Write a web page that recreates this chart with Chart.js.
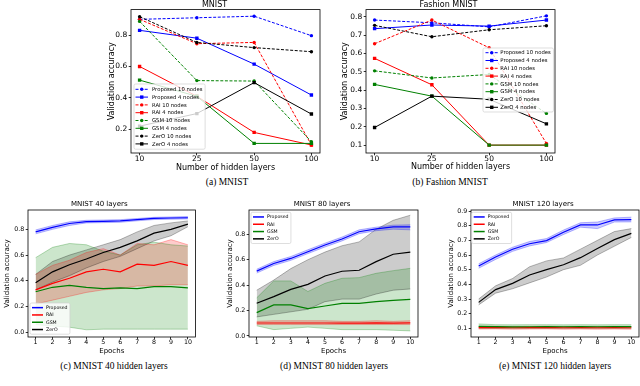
<!DOCTYPE html>
<html>
<head>
<meta charset="utf-8">
<script src="https://cdn.jsdelivr.net/npm/chart.js@4.4.0/dist/chart.umd.min.js"></script>
<style>
  body { margin: 0; background: #fff; width: 640px; height: 386px; position: relative; overflow: hidden; }
  canvas { position: absolute; }
  .cap { position: absolute; font-family: "Liberation Serif", serif; font-size: 9.5px; color: #000; white-space: nowrap; transform: translateX(-50%); line-height: 11px; }
</style>
</head>
<body>
<canvas id="chartA"></canvas>
<canvas id="chartB"></canvas>
<canvas id="chartC"></canvas>
<canvas id="chartD"></canvas>
<canvas id="chartE"></canvas>
<div class="cap" style="left:227px;top:177px">(a) MNIST</div>
<div class="cap" style="left:450px;top:177px">(b) Fashion MNIST</div>
<div class="cap" style="left:114px;top:361px">(c) MNIST 40 hidden layers</div>
<div class="cap" style="left:334px;top:361px">(d) MNIST 80 hidden layers</div>
<div class="cap" style="left:555px;top:361px">(e) MNIST 120 hidden layers</div>
<script>
// x categories
const layerLabels = ['10', '25', '50', '100'];
const epochs = [1, 2, 3, 4, 5, 6, 7, 8, 9, 10];

// y tick labels
const yTicksA = [0.2, 0.4, 0.6, 0.8];
const yTicksB = [0.1, 0.2, 0.3, 0.4, 0.5, 0.6, 0.7, 0.8];
const yTicksC = [0.0, 0.2, 0.4, 0.6, 0.8];
const yTicksD = [0.0, 0.2, 0.4, 0.6, 0.8];
const yTicksE = [0.1, 0.2, 0.3, 0.4, 0.5, 0.6, 0.7, 0.8, 0.9];

// (a) MNIST
const mnistProp10 = [0.90, 0.91, 0.92, 0.796];
const mnistProp4 = [0.83, 0.78, 0.615, 0.418];
const mnistRai10 = [0.90, 0.745, 0.753, 0.10];
const mnistRai4 = [0.60, 0.41, 0.18, 0.10];
const mnistGsm10 = [0.887, 0.51, 0.507, 0.121];
const mnistGsm4 = [0.513, 0.41, 0.11, 0.11];
const mnistZero10 = [0.917, 0.753, 0.72, 0.694];
const mnistZero4 = [0.22, 0.30, 0.497, 0.297];

// (b) Fashion MNIST
const fashProp10 = [0.782, 0.767, 0.745, 0.805];
const fashProp4 = [0.735, 0.755, 0.749, 0.782];
const fashRai10 = [0.653, 0.782, 0.631, 0.109];
const fashRai4 = [0.573, 0.429, 0.10, 0.10];
const fashGsm10 = [0.505, 0.466, 0.485, 0.273];
const fashGsm4 = [0.431, 0.367, 0.10, 0.10];
const fashZero10 = [0.753, 0.691, 0.729, 0.751];
const fashZero4 = [0.196, 0.367, 0.35, 0.216];

// (c) MNIST 40 layers
const prop40 = [0.78, 0.815, 0.845, 0.86, 0.862, 0.865, 0.875, 0.885, 0.888, 0.89];
const prop40Lo = [0.765, 0.80, 0.83, 0.85, 0.852, 0.855, 0.866, 0.876, 0.879, 0.881];
const prop40Hi = [0.795, 0.83, 0.858, 0.87, 0.872, 0.875, 0.884, 0.893, 0.896, 0.899];
const rai40 = [0.33, 0.38, 0.42, 0.47, 0.49, 0.47, 0.53, 0.52, 0.55, 0.52];
const rai40Lo = [0.22, 0.25, 0.28, 0.31, 0.33, 0.34, 0.36, 0.36, 0.37, 0.37];
const rai40Hi = [0.45, 0.52, 0.56, 0.62, 0.65, 0.60, 0.69, 0.68, 0.72, 0.68];
const gsm40 = [0.315, 0.35, 0.365, 0.35, 0.34, 0.345, 0.34, 0.355, 0.355, 0.345];
const gsm40Lo = [0.06, 0.05, 0.04, 0.02, 0.025, 0.025, 0.025, 0.025, 0.025, 0.025];
const gsm40Hi = [0.58, 0.66, 0.69, 0.68, 0.63, 0.60, 0.68, 0.70, 0.68, 0.67];
const zero40 = [0.385, 0.47, 0.525, 0.57, 0.62, 0.66, 0.71, 0.77, 0.80, 0.84];
const zero40Lo = [0.33, 0.39, 0.44, 0.50, 0.55, 0.59, 0.65, 0.71, 0.75, 0.82];
const zero40Hi = [0.45, 0.55, 0.60, 0.64, 0.68, 0.72, 0.78, 0.83, 0.85, 0.865];

// (d) MNIST 80 layers
const prop80 = [0.51, 0.57, 0.61, 0.663, 0.716, 0.763, 0.82, 0.842, 0.858, 0.858];
const prop80Lo = [0.495, 0.555, 0.595, 0.648, 0.70, 0.748, 0.805, 0.828, 0.84, 0.835];
const prop80Hi = [0.525, 0.585, 0.625, 0.678, 0.73, 0.778, 0.835, 0.856, 0.872, 0.875];
const rai80 = [0.102, 0.102, 0.102, 0.102, 0.102, 0.101, 0.101, 0.103, 0.101, 0.103];
const rai80Lo = [0.09, 0.09, 0.09, 0.09, 0.09, 0.09, 0.09, 0.09, 0.09, 0.09];
const rai80Hi = [0.115, 0.12, 0.12, 0.12, 0.12, 0.115, 0.115, 0.12, 0.115, 0.12];
const gsm80 = [0.184, 0.244, 0.244, 0.215, 0.236, 0.257, 0.257, 0.27, 0.28, 0.288];
const gsm80Lo = [0.08, 0.05, 0.06, 0.07, 0.06, 0.05, 0.05, 0.05, 0.045, 0.04];
const gsm80Hi = [0.30, 0.433, 0.433, 0.35, 0.414, 0.454, 0.459, 0.493, 0.514, 0.532];
const zero80 = [0.257, 0.31, 0.367, 0.406, 0.472, 0.509, 0.517, 0.585, 0.643, 0.66];
const zero80Lo = [0.15, 0.17, 0.19, 0.21, 0.27, 0.29, 0.29, 0.33, 0.36, 0.37];
const zero80Hi = [0.36, 0.44, 0.53, 0.60, 0.66, 0.71, 0.74, 0.84, 0.91, 0.95];

// (e) MNIST 120 layers
const prop120 = [0.525, 0.586, 0.639, 0.677, 0.698, 0.755, 0.805, 0.805, 0.839, 0.841];
const prop120Lo = [0.51, 0.57, 0.625, 0.662, 0.685, 0.74, 0.79, 0.78, 0.825, 0.826];
const prop120Hi = [0.54, 0.60, 0.653, 0.692, 0.712, 0.77, 0.82, 0.825, 0.853, 0.858];
const rai120 = [0.105, 0.106, 0.104, 0.105, 0.106, 0.104, 0.105, 0.104, 0.105, 0.104];
const rai120Lo = [0.095, 0.096, 0.094, 0.095, 0.096, 0.094, 0.095, 0.094, 0.095, 0.094];
const rai120Hi = [0.113, 0.114, 0.112, 0.113, 0.114, 0.112, 0.113, 0.112, 0.113, 0.112];
const gsm120 = [0.113, 0.112, 0.11, 0.111, 0.112, 0.111, 0.112, 0.111, 0.112, 0.112];
const gsm120Lo = [0.10, 0.10, 0.10, 0.10, 0.10, 0.10, 0.10, 0.10, 0.10, 0.10];
const gsm120Hi = [0.13, 0.125, 0.124, 0.125, 0.125, 0.124, 0.125, 0.124, 0.125, 0.125];
const zero120 = [0.277, 0.364, 0.407, 0.464, 0.50, 0.534, 0.582, 0.645, 0.705, 0.748];
const zero120Lo = [0.26, 0.34, 0.37, 0.41, 0.45, 0.50, 0.53, 0.60, 0.66, 0.72];
const zero120Hi = [0.30, 0.39, 0.44, 0.52, 0.56, 0.58, 0.64, 0.70, 0.76, 0.78];

const F = '"DejaVu Sans", sans-serif';
Chart.defaults.font.family = F;
Chart.defaults.color = '#000';

const BLUE = '#0000ff', RED = '#ff0000', GREEN = '#008000', BLACK = '#000000';
const fade = { [BLUE]: '0,0,255', [RED]: '255,0,0', [GREEN]: '0,128,0', [BLACK]: '0,0,0' };

// box around the plot area, like matplotlib spines
const frame = {
  id: 'frame',
  afterDraw(chart) {
    const a = chart.chartArea, ctx = chart.ctx;
    ctx.save();
    ctx.strokeStyle = '#000';
    ctx.lineWidth = 0.8;
    ctx.strokeRect(a.left, a.top, a.right - a.left, a.bottom - a.top);
    ctx.restore();
  }
};

// legend drawn inside the axes
const boxLegend = {
  id: 'boxLegend',
  afterDraw(chart, args, o) {
    if (!o || o.x === undefined) return;
    const sets = chart.data.datasets.filter(d => d.label);
    const ctx = chart.ctx;
    ctx.save();
    ctx.font = o.fs + 'px ' + F;
    const tw = Math.max(...sets.map(d => ctx.measureText(d.label).width));
    const w = o.tx + tw + o.fs * 0.5;
    const h = sets.length * o.row + o.pad * 2;
    ctx.beginPath();
    ctx.roundRect(o.x, o.y, w, h, 1.5);
    ctx.fillStyle = 'rgba(255,255,255,0.8)';
    ctx.fill();
    ctx.strokeStyle = '#d0d0d0';
    ctx.lineWidth = 0.7;
    ctx.stroke();
    sets.forEach((d, i) => {
      const y = o.y + o.pad + o.row * (i + 0.5);
      ctx.beginPath();
      ctx.setLineDash(d.borderDash || []);
      ctx.strokeStyle = d.borderColor;
      ctx.lineWidth = o.lw || d.borderWidth;
      ctx.moveTo(o.x + o.hx, y);
      ctx.lineTo(o.x + o.hx + o.hl, y);
      ctx.stroke();
      ctx.setLineDash([]);
      const mx = o.x + o.hx + o.hl / 2;
      ctx.fillStyle = d.borderColor;
      if (d.pointStyle === 'circle' && d.pointRadius) {
        ctx.beginPath();
        ctx.arc(mx, y, d.pointRadius, 0, Math.PI * 2);
        ctx.fill();
      } else if (d.pointStyle === 'rect' && d.pointRadius) {
        const s = d.pointRadius * Math.SQRT1_2;
        ctx.fillRect(mx - s, y - s, 2 * s, 2 * s);
      }
      ctx.fillStyle = '#000';
      ctx.textBaseline = 'middle';
      ctx.textAlign = 'left';
      ctx.fillText(d.label, o.x + o.tx, y + 0.3);
    });
    ctx.restore();
  }
};

function seriesSet(label, values, color, dashed, marker, order) {
  return {
    label: label,
    data: values.map((v, i) => ({ x: i, y: v })),
    borderColor: color,
    backgroundColor: color,
    borderWidth: 1,
    borderDash: dashed ? [3, 1.6] : [],
    pointStyle: marker,
    pointRadius: marker === 'rect' ? 2.4 : 1.7,
    pointBorderWidth: 0,
    fill: false,
    order: order
  };
}

function meanSet(label, values, color, order) {
  return {
    label: label,
    data: values.map((v, i) => ({ x: epochs[i], y: v })),
    borderColor: color,
    borderWidth: 1.2,
    pointRadius: 0,
    fill: false,
    order: order
  };
}

function bandSets(hi, lo, color) {
  const edge = 'rgba(' + fade[color] + ',0.35)';
  return [
    { data: hi.map((v, i) => ({ x: epochs[i], y: v })), borderColor: edge, borderWidth: 0.8,
      backgroundColor: 'rgba(' + fade[color] + ',0.2)', pointRadius: 0, fill: '+1', order: 100 },
    { data: lo.map((v, i) => ({ x: epochs[i], y: v })), borderColor: edge, borderWidth: 0.8,
      pointRadius: 0, fill: false, order: 100 }
  ];
}

function makeChart(id, g, cfg) {
  const el = document.getElementById(id);
  el.width = g.w;
  el.height = g.h;
  el.style.left = g.left + 'px';
  el.style.top = g.top + 'px';
  const tickGrid = { drawOnChartArea: false, drawTicks: true, tickLength: 2.3, color: '#000', lineWidth: 0.8 };
  return new Chart(el, {
    type: 'line',
    data: { datasets: cfg.datasets },
    options: {
      responsive: false,
      animation: false,
      devicePixelRatio: 1,
      layout: { padding: { left: 0, right: g.padR, top: 0, bottom: 0 } },
      plugins: {
        legend: { display: false },
        tooltip: { enabled: false },
        filler: { drawTime: 'beforeDatasetsDraw' },
        title: {
          display: true, text: cfg.title, color: '#000',
          font: { family: F, size: g.titleSize, weight: 'normal' },
          padding: { top: 0, bottom: g.titlePad }
        },
        boxLegend: cfg.legend
      },
      scales: {
        x: {
          type: 'linear', min: cfg.xMin, max: cfg.xMax,
          afterBuildTicks: s => { s.ticks = cfg.xTicks.map(v => ({ value: v })); },
          afterFit: s => { s.height = g.xh; },
          ticks: { callback: cfg.xLabel, font: { size: g.tickSize, lineHeight: 1 }, color: '#000', padding: 0, maxRotation: 0, autoSkip: false },
          grid: tickGrid,
          border: { display: false },
          title: { display: true, text: cfg.xTitle, color: '#000', font: { size: g.labSize }, padding: 0 }
        },
        y: {
          min: cfg.yMin, max: cfg.yMax,
          afterBuildTicks: s => { s.ticks = cfg.yTicks.map(v => ({ value: v })); },
          afterFit: s => { s.width = g.yw; },
          ticks: { callback: v => v.toFixed(1), font: { size: g.tickSize, lineHeight: 1 }, color: '#000', padding: 1.5 },
          grid: tickGrid,
          border: { display: false },
          title: { display: true, text: 'Validation accuracy', color: '#000', font: { size: g.labSize }, padding: 0 }
        }
      }
    },
    plugins: [frame, boxLegend]
  });
}

// top row
const topGeom = { titleSize: 8, titlePad: 0, tickSize: 7.5, labSize: 8, padR: 2 };
const layerX = { xMin: -0.15, xMax: 3.15, xTicks: [0, 1, 2, 3], xLabel: v => layerLabels[v], xTitle: 'Number of hidden layers' };

makeChart('chartA', Object.assign({ left: 107, top: 0, w: 217, h: 173, yw: 24, xh: 20 }, topGeom), Object.assign({
  title: 'MNIST', yMin: 0.049, yMax: 0.962, yTicks: yTicksA,
  datasets: [
    seriesSet('Proposed 10 nodes', mnistProp10, BLUE, true, 'circle', 8),
    seriesSet('Proposed 4 nodes', mnistProp4, BLUE, false, 'rect', 7),
    seriesSet('RAI 10 nodes', mnistRai10, RED, true, 'circle', 6),
    seriesSet('RAI 4 nodes', mnistRai4, RED, false, 'rect', 5),
    seriesSet('GSM 10 nodes', mnistGsm10, GREEN, true, 'circle', 4),
    seriesSet('GSM 4 nodes', mnistGsm4, GREEN, false, 'rect', 3),
    seriesSet('ZerO 10 nodes', mnistZero10, BLACK, true, 'circle', 2),
    seriesSet('ZerO 4 nodes', mnistZero4, BLACK, false, 'rect', 1)
  ],
  legend: { x: 27, y: 84, fs: 5.3, row: 7.8, pad: 1.4, hx: 1.5, hl: 12.5, tx: 18 }
}, layerX));

makeChart('chartB', Object.assign({ left: 340, top: 0, w: 219, h: 172, yw: 26, xh: 19 }, topGeom), Object.assign({
  title: 'Fashion MNIST', yMin: 0.057, yMax: 0.839, yTicks: yTicksB,
  datasets: [
    seriesSet('Proposed 10 nodes', fashProp10, BLUE, true, 'circle', 8),
    seriesSet('Proposed 4 nodes', fashProp4, BLUE, false, 'rect', 7),
    seriesSet('RAI 10 nodes', fashRai10, RED, true, 'circle', 6),
    seriesSet('RAI 4 nodes', fashRai4, RED, false, 'rect', 5),
    seriesSet('GSM 10 nodes', fashGsm10, GREEN, true, 'circle', 4),
    seriesSet('GSM 4 nodes', fashGsm4, GREEN, false, 'rect', 3),
    seriesSet('ZerO 10 nodes', fashZero10, BLACK, true, 'circle', 2),
    seriesSet('ZerO 4 nodes', fashZero4, BLACK, false, 'rect', 1)
  ],
  legend: { x: 143, y: 48, fs: 5.3, row: 7.8, pad: 0.8, hx: 2.5, hl: 12.5, tx: 17.3 }
}, layerX));

// bottom row
const botGeom = { top: 200, h: 155, xh: 18, titleSize: 7, titlePad: 1.6, tickSize: 6.3, labSize: 7 };
const epochX = { xMin: 0.55, xMax: 10.45, xTicks: epochs, xLabel: v => String(v), xTitle: 'Epochs' };
const botLegend = { fs: 4.7, row: 7.3, pad: 1, hx: 2, hl: 11, tx: 16, lw: 1.5 };

function epochSets(p, pl, ph, r, rl, rh, g, gl, gh, z, zl, zh) {
  return [
    meanSet('Proposed', p, BLUE, 4),
    meanSet('RAI', r, RED, 3),
    meanSet('GSM', g, GREEN, 2),
    meanSet('ZerO', z, BLACK, 1)
  ].concat(bandSets(ph, pl, BLUE), bandSets(rh, rl, RED), bandSets(gh, gl, GREEN), bandSets(zh, zl, BLACK));
}

makeChart('chartC', Object.assign({ left: 3, w: 194, yw: 25, padR: 1.5 }, botGeom), Object.assign({
  title: 'MNIST 40 layers', yMin: -0.036, yMax: 0.95, yTicks: yTicksC,
  datasets: epochSets(prop40, prop40Lo, prop40Hi, rai40, rai40Lo, rai40Hi, gsm40, gsm40Lo, gsm40Hi, zero40, zero40Lo, zero40Hi),
  legend: Object.assign({ x: 27, y: 103 }, botLegend)
}, epochX));

makeChart('chartD', Object.assign({ left: 226, w: 194, yw: 23, padR: 2 }, botGeom), Object.assign({
  title: 'MNIST 80 layers', yMin: -0.008, yMax: 0.991, yTicks: yTicksD,
  datasets: epochSets(prop80, prop80Lo, prop80Hi, rai80, rai80Lo, rai80Hi, gsm80, gsm80Lo, gsm80Hi, zero80, zero80Lo, zero80Hi),
  legend: Object.assign({ x: 25, y: 12.3 }, botLegend)
}, epochX));

makeChart('chartE', Object.assign({ left: 447, w: 193, yw: 24, padR: 1 }, botGeom), Object.assign({
  title: 'MNIST 120 layers', yMin: 0.041, yMax: 0.907, yTicks: yTicksE,
  datasets: epochSets(prop120, prop120Lo, prop120Hi, rai120, rai120Lo, rai120Hi, gsm120, gsm120Lo, gsm120Hi, zero120, zero120Lo, zero120Hi),
  legend: Object.assign({ x: 24.7, y: 12.3 }, botLegend)
}, epochX));
</script>
</body>
</html>
